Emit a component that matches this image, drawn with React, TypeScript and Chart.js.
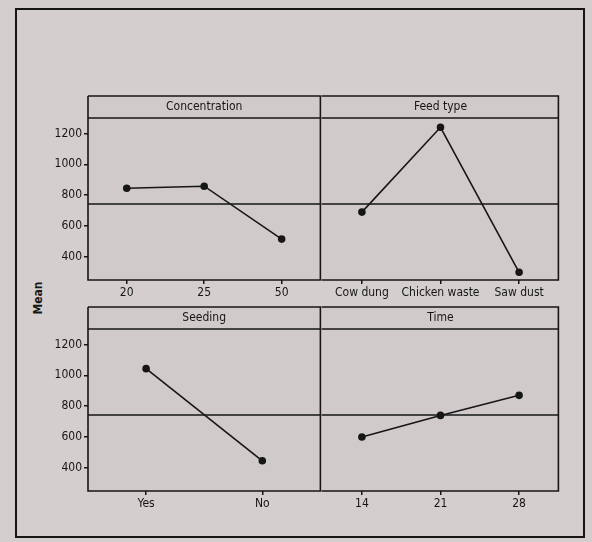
import React, { useEffect, useRef } from "react";
import { Chart, registerables } from "chart.js";

Chart.register(...registerables);

// ---- data ----
const concentrationLevels = ["20", "25", "50"];
const concentrationMeans = [845, 858, 515];
const feedTypeLevels = ["Cow dung", "Chicken waste", "Saw dust"];
const feedTypeMeans = [690, 1240, 300];
const seedingLevels = ["Yes", "No"];
const seedingMeans = [1043, 446];
const timeLevels = ["14", "21", "28"];
const timeMeans = [600, 740, 870];
const grandMean = 742;
const yTicks = [400, 600, 800, 1000, 1200];
const yMin = 250;
const yMax = 1300;

// ---- style ----
const PAPER = "#d4cfce";
const PANEL_BG = "#d0cbca";
const INK = "#161616";
const FONT = "'DejaVu Sans Condensed', 'DejaVu Sans', sans-serif";
const STRIP = 22;

const panelPlugin = {
  id: "panel",
  beforeDraw(chart: any) {
    const { ctx, chartArea: a } = chart;
    ctx.save();
    ctx.fillStyle = PANEL_BG;
    ctx.fillRect(a.left, a.top - STRIP, a.right - a.left, a.bottom - a.top + STRIP);
    ctx.restore();
  },
  beforeDatasetsDraw(chart: any, _args: any, opts: any) {
    const { ctx, chartArea: a } = chart;
    const y = chart.scales.y.getPixelForValue(opts.mean);
    ctx.save();
    ctx.strokeStyle = INK;
    ctx.lineWidth = 1.5;
    ctx.beginPath();
    ctx.moveTo(a.left - (opts.skipLeft ? 1 : 0), y);
    ctx.lineTo(a.right, y);
    ctx.stroke();
    ctx.restore();
  },
  afterDraw(chart: any, _args: any, opts: any) {
    const { ctx, chartArea: a } = chart;
    const l = opts.skipLeft ? a.left - 1 : a.left;
    const t = a.top - STRIP;
    ctx.save();
    ctx.strokeStyle = INK;
    ctx.lineWidth = 1.6;
    ctx.beginPath();
    ctx.moveTo(l, t);
    ctx.lineTo(a.right, t);
    ctx.lineTo(a.right, a.bottom);
    ctx.lineTo(l, a.bottom);
    if (!opts.skipLeft) ctx.lineTo(l, t);
    ctx.moveTo(l, a.top);
    ctx.lineTo(a.right, a.top);
    ctx.stroke();
    ctx.fillStyle = INK;
    ctx.font = `12px ${FONT}`;
    ctx.textAlign = "center";
    ctx.textBaseline = "middle";
    ctx.fillText(opts.title, (a.left + a.right) / 2, a.top - STRIP / 2);
    ctx.restore();
  },
};

type PanelProps = {
  title: string;
  labels: string[];
  values: number[];
  showY: boolean;
  left: number;
  top: number;
  width: number;
  height: number;
};

function Panel({ title, labels, values, showY, left, top, width, height }: PanelProps) {
  const ref = useRef<HTMLCanvasElement>(null);
  useEffect(() => {
    if (!ref.current) return;
    const chart = new Chart(ref.current, {
      type: "line",
      data: {
        labels,
        datasets: [
          {
            data: values,
            borderColor: INK,
            backgroundColor: INK,
            borderWidth: 1.6,
            pointRadius: 3,
            pointBackgroundColor: INK,
            pointBorderColor: INK,
            tension: 0,
          },
        ],
      },
      options: {
        animation: false,
        responsive: false,
        maintainAspectRatio: false,
        layout: { padding: { top: STRIP + 1, right: showY ? 5 : 2, left: 0, bottom: 0 } },
        plugins: {
          legend: { display: false },
          tooltip: { enabled: false },
          panel: { title, mean: grandMean, skipLeft: !showY },
        } as any,
        scales: {
          x: {
            type: "category",
            offset: true,
            border: { display: false },
            grid: {
              offset: false,
              drawOnChartArea: false,
              drawTicks: true,
              tickLength: 4,
              color: INK,
              lineWidth: 1.5,
            },
            ticks: {
              color: INK,
              font: { size: 12, family: FONT },
              padding: 2,
              maxRotation: 0,
              autoSkip: false,
            },
            afterFit: (s: any) => {
              s.height = 25;
            },
          },
          y: {
            display: showY,
            min: yMin,
            max: yMax,
            border: { display: false },
            grid: {
              drawOnChartArea: false,
              drawTicks: true,
              tickLength: 4,
              color: INK,
              lineWidth: 1.5,
            },
            ticks: {
              color: INK,
              font: { size: 12, family: FONT },
              padding: 2,
              callback: (v: any) => String(v),
            },
            afterBuildTicks: (s: any) => {
              s.ticks = yTicks.map((v) => ({ value: v }));
            },
            afterFit: (s: any) => {
              s.width = showY ? 52 : 0;
            },
          },
        },
      },
      plugins: [panelPlugin],
    });
    return () => chart.destroy();
  }, []);
  return (
    <canvas
      ref={ref}
      width={width}
      height={height}
      style={{ position: "absolute", left, top, width, height }}
    />
  );
}

export default function App() {
  return (
    <div
      style={{
        position: "absolute",
        left: 0,
        top: 0,
        width: 592,
        height: 542,
        background: PAPER,
        overflow: "hidden",
      }}
    >
      <div
        style={{
          position: "absolute",
          left: 15,
          top: 8,
          width: 566,
          height: 526,
          border: `2px solid ${INK}`,
        }}
      />
      <div
        style={{
          position: "absolute",
          left: 38,
          top: 298,
          transform: "translate(-50%, -50%) rotate(-90deg)",
          font: `bold 12px ${FONT}`,
          color: INK,
        }}
      >
        Mean
      </div>
      <Panel title="Concentration" labels={concentrationLevels} values={concentrationMeans} showY left={36} top={95} width={290} height={210} />
      <Panel title="Feed type" labels={feedTypeLevels} values={feedTypeMeans} showY={false} left={317} top={95} width={247} height={210} />
      <Panel title="Seeding" labels={seedingLevels} values={seedingMeans} showY left={36} top={306} width={290} height={210} />
      <Panel title="Time" labels={timeLevels} values={timeMeans} showY={false} left={317} top={306} width={247} height={210} />
    </div>
  );
}
